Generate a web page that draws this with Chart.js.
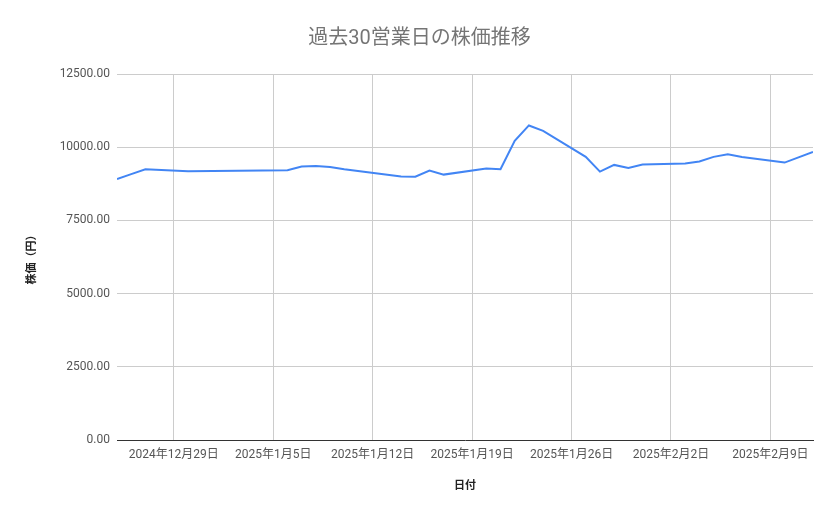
<!DOCTYPE html>
<html>
<head>
<meta charset="utf-8">
<script src="https://cdn.jsdelivr.net/npm/chart.js@4.4.1/dist/chart.umd.min.js"></script>
<style>
  html, body { margin: 0; padding: 0; background: #fff; }
  #wrap { width: 839px; height: 519px; }
</style>
</head>
<body>
<div id="wrap"><canvas id="c" width="839" height="519"></canvas></div>
<script>
const dates = ['2024-12-25','2024-12-26','2024-12-27','2024-12-30','2025-01-06','2025-01-07','2025-01-08','2025-01-09','2025-01-10','2025-01-14','2025-01-15','2025-01-16','2025-01-17','2025-01-20','2025-01-21','2025-01-22','2025-01-23','2025-01-24','2025-01-27','2025-01-28','2025-01-29','2025-01-30','2025-01-31','2025-02-03','2025-02-04','2025-02-05','2025-02-06','2025-02-07','2025-02-10','2025-02-12'];
const prices = [8915, 9080, 9247, 9180, 9215, 9340, 9360, 9326, 9250, 8996, 8990, 9202, 9064, 9270, 9247, 10216, 10743, 10559, 9669, 9167, 9395, 9292, 9407, 9445, 9510, 9669, 9760, 9669, 9475, 9840];
const tickDates = ['2024-12-29','2025-01-05','2025-01-12','2025-01-19','2025-01-26','2025-02-02','2025-02-09'];
const yTicks = [0, 2500, 5000, 7500, 10000, 12500];

const DAY = 86400000;
function toDay(s) { const [y, m, d] = s.split('-').map(Number); return Date.UTC(y, m - 1, d) / DAY; }
function fmtDay(v) { const dt = new Date(v * DAY); return dt.getUTCFullYear() + '年' + (dt.getUTCMonth() + 1) + '月' + dt.getUTCDate() + '日'; }

const FONT = "Roboto, 'Noto Sans CJK JP', sans-serif";
const points = dates.map((d, i) => ({ x: toDay(d), y: prices[i] }));

new Chart(document.getElementById('c'), {
  type: 'line',
  data: {
    datasets: [{
      data: points,
      borderColor: '#4285F4',
      borderWidth: 2,
      pointRadius: 0,
      tension: 0,
      fill: false
    }]
  },
  options: {
    responsive: false,
    animation: false,
    layout: { padding: 0 },
    plugins: {
      legend: { display: false },
      tooltip: { enabled: false },
      title: {
        display: true,
        text: '過去30営業日の株価推移',
        color: '#757575',
        font: { family: FONT, size: 20, weight: 'normal' },
        padding: { top: 27, bottom: 23 }
      }
    },
    scales: {
      x: {
        type: 'linear',
        min: toDay(dates[0]),
        max: toDay(dates[dates.length - 1]),
        afterBuildTicks: (scale) => { scale.ticks = tickDates.map(d => ({ value: toDay(d) })); },
        afterFit: (scale) => { scale.height = 79; },
        ticks: {
          callback: (v) => fmtDay(v),
          color: '#555',
          font: { family: FONT, size: 12 },
          padding: 8,
          maxRotation: 0,
          autoSkip: false
        },
        grid: { color: '#cccccc', drawTicks: false },
        border: { display: true, color: '#333', width: 1 },
        title: {
          display: true,
          text: '日付',
          color: '#222',
          font: { family: FONT, size: 11, weight: 'bold' },
          padding: { top: 0, bottom: 26 }
        }
      },
      y: {
        min: 0,
        max: 12500,
        afterBuildTicks: (scale) => { scale.ticks = yTicks.map(v => ({ value: v })); },
        afterFit: (scale) => { scale.width = 117; },
        ticks: {
          callback: (v) => Number(v).toFixed(2),
          color: '#555',
          font: { family: FONT, size: 12 },
          padding: 7
        },
        grid: {
          color: (ctx) => (ctx.tick && ctx.tick.value === 0) ? 'rgba(0,0,0,0)' : '#cccccc',
          drawTicks: false
        },
        border: { display: false },
        title: {
          display: true,
          text: '株価（円）',
          color: '#222',
          font: { family: FONT, size: 11, weight: 'bold' },
          padding: { top: 26, bottom: 0 }
        }
      },
      yRight: {
        position: 'right',
        afterFit: (scale) => { scale.width = 26; },
        ticks: { display: false },
        grid: { display: false, drawOnChartArea: false },
        border: { display: false }
      }
    }
  }
});
</script>
</body>
</html>
